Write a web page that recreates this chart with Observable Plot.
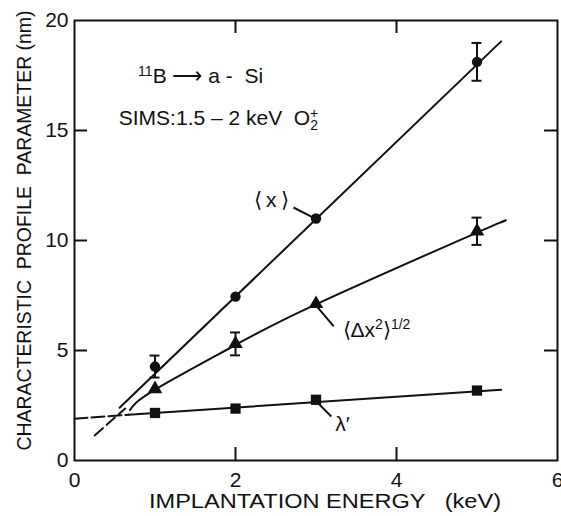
<!DOCTYPE html>
<html>
<head>
<meta charset="utf-8">
<script src="https://cdn.jsdelivr.net/npm/d3@7"></script>
<script src="https://cdn.jsdelivr.net/npm/@observablehq/plot@0.6"></script>
<style>
  html, body { margin: 0; padding: 0; background: #fff; }
  #chart svg { display: block; }
</style>
</head>
<body>
<div id="chart"></div>
<script>
// ---- data ----
const energy = [1, 2, 3, 5];                       // keV
const meanDepth = [4.27, 7.45, 11.0, 18.12];       // <x> (nm)
const meanDepthErr = [0.5, null, null, 0.86];
const straggling = [3.25, 5.3, 7.12, 10.42];       // <Δx²>^1/2 (nm)
const stragglingErr = [null, 0.52, null, 0.62];
const lambda = [2.16, 2.36, 2.76, 3.18];           // λ' (nm)

// fitted curves drawn in the figure
const meanFitX = [0.56, 5.3];
const meanFitY = [2.4, 19.05];
const stragFitX = [0.69, 1, 2, 3, 5, 5.3];
const stragFitY = [2.3, 3.22, 5.25, 7.1, 10.36, 10.82];
const lambdaFitX = [0.67, 5.3];
const lambdaFitY = [2.08, 3.22];
const lambdaExtX = [0, 0.67];
const lambdaExtY = [1.9, 2.08];
const depthExtX = [0.25, 0.63];
const depthExtY = [1.14, 2.36];

const xTicks = [0, 2, 4, 6];
const yTicks = [0, 5, 10, 15, 20];
const xInnerTicks = [2, 4];
const yInnerTicks = [5, 10, 15];

const xLabel = "IMPLANTATION ENERGY   (keV)";
const yLabel = "CHARACTERISTIC  PROFILE  PARAMETER (nm)";

// ---- tables built from the arrays ----
const pts = (ys, errs) => energy.map((x, i) => ({x, y: ys[i], e: errs ? errs[i] : null}));
const line = (xs, ys) => xs.map((x, i) => ({x, y: ys[i]}));
const meanPts = pts(meanDepth, meanDepthErr);
const stragPts = pts(straggling, stragglingErr);
const lambdaPts = pts(lambda, null);
const errRows = [...meanPts, ...stragPts].filter(d => d.e != null);

const W = 561, H = 516;
const mL = 74, mR = 4, mT = 20, mB = 56;
const fw = W - mL - mR, fh = H - mT - mB;
const TL = 13; // inward tick length
const FONT = '"Liberation Sans", Arial, sans-serif';
const ink = "#111";

const chart = Plot.plot({
  width: W, height: H,
  marginLeft: mL, marginRight: mR, marginTop: mT, marginBottom: mB,
  style: {fontFamily: FONT, fontSize: "20px", color: ink, background: "#fff"},
  x: {domain: [0, 6]},
  y: {domain: [0, 20]},
  marks: [
    Plot.frame({stroke: ink, strokeWidth: 2}),
    // inward ticks on all four sides
    Plot.ruleX(xInnerTicks, {x: d => d, insetTop: fh - TL, stroke: ink, strokeWidth: 2}),
    Plot.ruleX(xInnerTicks, {x: d => d, insetBottom: fh - TL, stroke: ink, strokeWidth: 2}),
    Plot.ruleY(yInnerTicks, {y: d => d, insetRight: fw - TL, stroke: ink, strokeWidth: 2}),
    Plot.ruleY(yInnerTicks, {y: d => d, insetLeft: fw - TL, stroke: ink, strokeWidth: 2}),
    Plot.axisX(xTicks, {tickSize: 0, tickPadding: 12, label: null, fontSize: 21}),
    Plot.axisY(yTicks, {tickSize: 0, tickPadding: 6, label: null, fontSize: 21}),
    // axis titles
    Plot.text([xLabel], {frameAnchor: "bottom", textAnchor: "middle", dx: 9, dy: 47, fontSize: 20, fill: ink}),
    Plot.text([yLabel], {frameAnchor: "left", textAnchor: "middle", dx: -50, dy: -10, rotate: -90, fontSize: 21, fill: ink}),
    // fitted lines
    Plot.line(line(meanFitX, meanFitY), {x: "x", y: "y", stroke: ink, strokeWidth: 2}),
    Plot.line(line(stragFitX, stragFitY), {x: "x", y: "y", stroke: ink, strokeWidth: 2, curve: "natural"}),
    Plot.line(line(lambdaFitX, lambdaFitY), {x: "x", y: "y", stroke: ink, strokeWidth: 2}),
    Plot.line(line(lambdaExtX, lambdaExtY), {x: "x", y: "y", stroke: ink, strokeWidth: 2, strokeDasharray: "13,4"}),
    Plot.line(line(depthExtX, depthExtY), {x: "x", y: "y", stroke: ink, strokeWidth: 2, strokeDasharray: "11,5"}),
    // error bars
    Plot.ruleX(errRows, {x: "x", y1: d => d.y - d.e, y2: d => d.y + d.e, stroke: ink, strokeWidth: 2}),
    Plot.ruleY(errRows, {y: d => d.y - d.e, x1: "x", x2: "x", insetLeft: -5, insetRight: -5, stroke: ink, strokeWidth: 2}),
    Plot.ruleY(errRows, {y: d => d.y + d.e, x1: "x", x2: "x", insetLeft: -5, insetRight: -5, stroke: ink, strokeWidth: 2}),
    // markers
    Plot.dot(meanPts, {x: "x", y: "y", r: 5.2, fill: ink, symbol: "circle"}),
    Plot.dot(stragPts, {x: "x", y: "y", r: 5.4, fill: ink, symbol: "triangle"}),
    Plot.dot(lambdaPts, {x: "x", y: "y", r: 5.8, fill: ink, symbol: "square"}),
    // leader lines
    Plot.link([0], {x1: 2.72, y1: 11.5, x2: 2.96, y2: 11.05, stroke: ink, strokeWidth: 2}),
    Plot.link([0], {x1: 3.0, y1: 7.05, x2: 3.22, y2: 6.1, stroke: ink, strokeWidth: 2}),
    Plot.link([0], {x1: 3.0, y1: 2.7, x2: 3.19, y2: 2.0, stroke: ink, strokeWidth: 2}),
    // annotations
    Plot.text(["BA"], {x: 0.79, y: 17.45, textAnchor: "start", fontSize: 21, fill: ink}),
    Plot.text(["SIMS"], {x: 0.55, y: 15.55, textAnchor: "start", fontSize: 21, fill: ink}),
    Plot.text(["MEAN"], {x: 2.66, y: 11.85, textAnchor: "end", fontSize: 21, fill: ink}),
    Plot.text(["STRAG"], {x: 3.33, y: 5.9, textAnchor: "start", fontSize: 21, fill: ink}),
    Plot.text(["λ′"], {x: 3.24, y: 1.65, textAnchor: "start", fontSize: 21, fill: ink})
  ]
});

const rich = {
  "BA": '<tspan font-size="14" dy="-7">11</tspan><tspan dy="7">B ⟶ a -  Si</tspan>',
  "SIMS": 'SIMS:1.5 – 2 keV  O<tspan font-size="14" dy="5">2</tspan><tspan font-size="14" dx="-8" dy="-12">+</tspan>',
  "MEAN": '⟨\u2009x\u2009⟩',
  "STRAG": '⟨Δx<tspan font-size="14" dy="-8">2</tspan><tspan dy="8">⟩</tspan><tspan font-size="14" dy="-8">1/2</tspan>'
};
d3.select(chart).selectAll("text").each(function () {
  const t = this.textContent;
  if (rich[t] !== undefined) this.innerHTML = rich[t];
  if (t === yLabel) { this.setAttribute("textLength", 440); this.setAttribute("lengthAdjust", "spacingAndGlyphs"); }
  if (t === xLabel) { this.setAttribute("textLength", 352); this.setAttribute("lengthAdjust", "spacingAndGlyphs"); }
});

document.getElementById("chart").appendChild(chart);
</script>
</body>
</html>
